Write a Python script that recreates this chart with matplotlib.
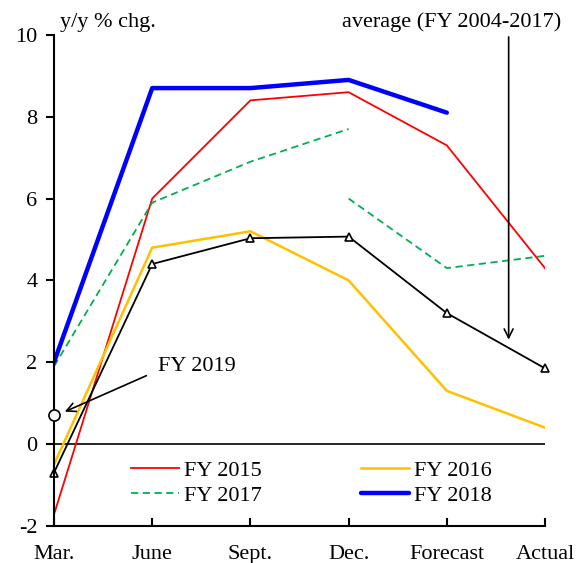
import numpy as np
import matplotlib
matplotlib.use('Agg')
import matplotlib.pyplot as plt

months = ['Mar.', 'June', 'Sept.', 'Dec.', 'Forecast', 'Actual']
fy2015 = [-1.72, 6.0, 8.4, 8.6, 7.3, 4.3]
fy2016 = [-0.5, 4.8, 5.2, 4.0, 1.3, 0.4]
fy2017a = [1.9, 5.9, 6.9, 7.7, np.nan, np.nan]
fy2017b = [np.nan, np.nan, np.nan, 6.0, 4.3, 4.6]
fy2018 = [2.0, 8.7, 8.7, 8.9, 8.1, np.nan]
avg = [-0.7, 4.4, 5.03, 5.07, 3.2, 1.85]
fy2019 = [0.7]

plt.rcParams['font.family'] = 'Liberation Serif'
plt.rcParams['font.size'] = 16
plt.rcParams['axes.unicode_minus'] = False

fig = plt.figure(figsize=(5.81, 5.63), dpi=100)
ax = fig.add_axes([0.093, 0.066, 0.845, 0.872])
x = np.arange(len(months))

ax.axhline(0, color='black', lw=1.2)
l15, = ax.plot(x, fy2015, color='#ff0000', lw=1.3, label='FY 2015')
l16, = ax.plot(x, fy2016, color='#ffc000', lw=1.8, label='FY 2016')
l17, = ax.plot(x, fy2017a, color='#00b050', lw=1.3, ls=(0, (4, 2.5)), label='FY 2017')
ax.plot(x, fy2017b, color='#00b050', lw=1.3, ls=(0, (4, 2.5)))
l18, = ax.plot(x, fy2018, color='#0000ff', lw=3.2, label='FY 2018', solid_capstyle='round')
ax.plot(x, avg, color='black', lw=1.3, marker='^', ms=6, mfc='white', mec='black', mew=1.2, clip_on=False)
ax.plot([0], fy2019, 'o', ms=8, mfc='white', mec='black', mew=1.2, clip_on=False, zorder=5)

ax.annotate('', xy=(0.11, 0.79), xytext=(0.94, 1.67),
            arrowprops=dict(arrowstyle='->', color='black', lw=1.2, shrinkA=0, shrinkB=0))
ax.text(1.06, 1.9, 'FY 2019', ha='left', va='center')
ax.annotate('', xy=(4.63, 2.55), xytext=(4.63, 9.95), annotation_clip=False,
            arrowprops=dict(arrowstyle='->', color='black', lw=1.2, shrinkA=0, shrinkB=0))
ax.text(2.93, 10.3, 'average (FY 2004-2017)', ha='left', va='center')
ax.text(0.06, 10.3, 'y/y % chg.', ha='left', va='center')

ax.set_xlim(0, 5)
ax.set_ylim(-2, 10)
ax.set_xticks(x)
ax.set_xticklabels(months)
ax.set_yticks(np.arange(-2, 11, 2))
ax.spines['top'].set_visible(False)
ax.spines['right'].set_visible(False)
ax.spines['left'].set_linewidth(1.5)
ax.spines['bottom'].set_linewidth(1.5)
ax.tick_params(axis='x', direction='in', length=6, width=1.5, pad=14)
ax.tick_params(axis='y', direction='out', length=6, width=1.5, pad=6)

ax.legend([l15, l17, l16, l18], ['FY 2015', 'FY 2017', 'FY 2016', 'FY 2018'],
          loc='lower left', bbox_to_anchor=(0.135, 0.018), ncol=2, frameon=False,
          columnspacing=4.5, handlelength=2.15, handletextpad=0.2, labelspacing=0.2,
          borderpad=0)

fig.savefig('out.png', dpi=100)
